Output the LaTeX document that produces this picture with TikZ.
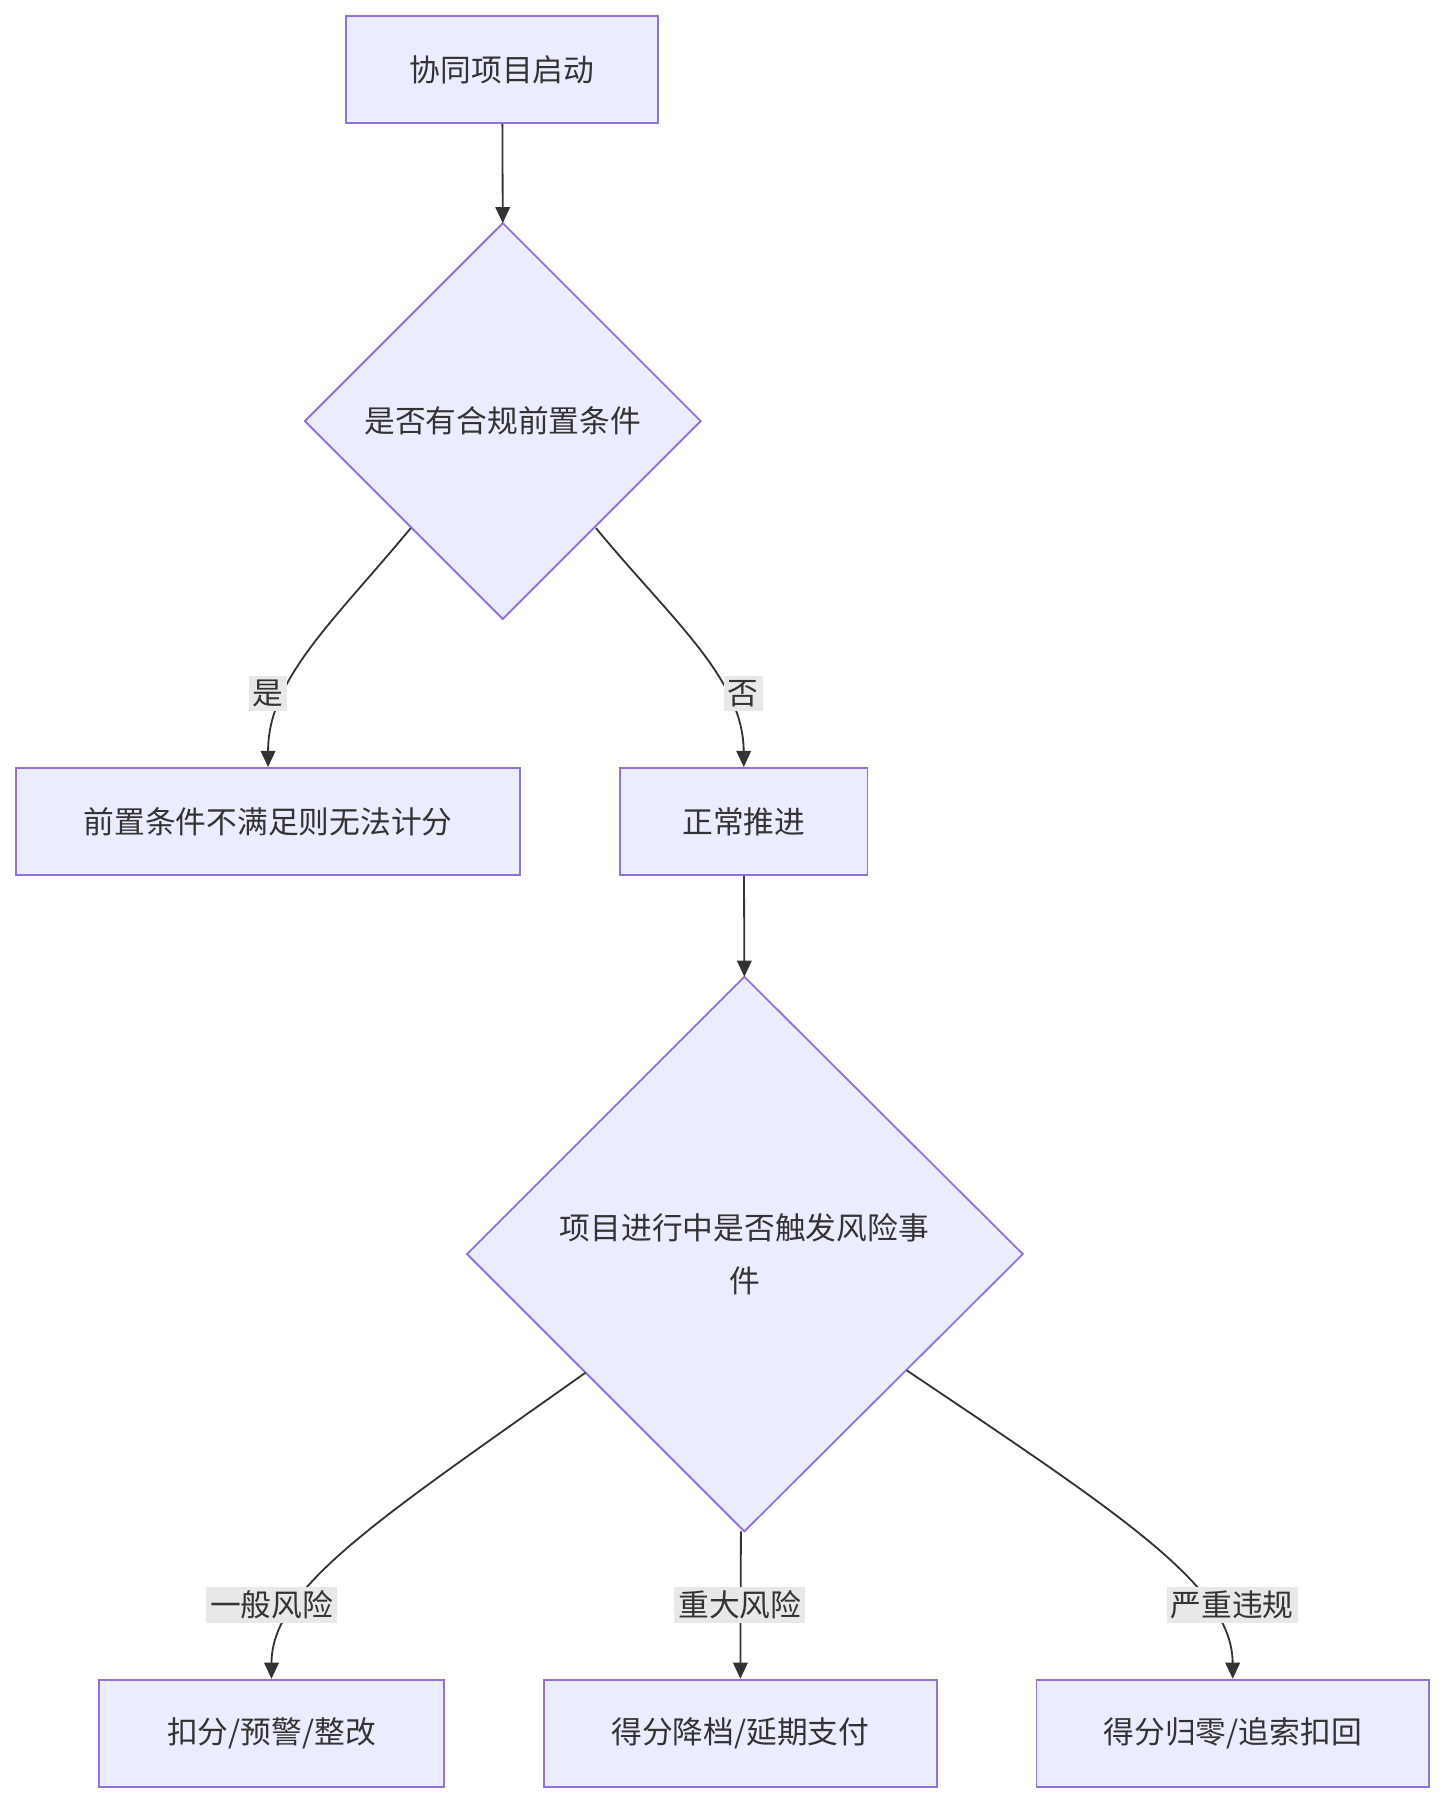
\documentclass[tikz,border=0pt]{standalone}
\usepackage{fontspec}
\setmainfont{Noto Sans CJK SC}
\usetikzlibrary{arrows.meta}
\definecolor{nfill}{HTML}{ECECFF}
\definecolor{nline}{HTML}{9370DB}
\definecolor{eline}{HTML}{333333}
\definecolor{lbg}{HTML}{E8E8E8}
\begin{document}
\begin{tikzpicture}[x=0.01cm,y=-0.01cm,
  font=\fontsize{7.6}{10}\selectfont, text=eline,
  box/.style={draw=nline,fill=nfill,line width=0.45pt,minimum height=0.93cm,inner sep=0pt},
  dia/.style={draw=nline,fill=nfill,line width=0.45pt},
  lbl/.style={fill=lbg,inner sep=1pt},
  conn/.style={draw=eline,line width=0.45pt,-{Triangle[length=4pt,width=3.6pt]}}]
\useasboundingbox (0,0) rectangle (1257,1568);
\node[box,minimum width=2.71cm] (start) at (436.5,60.5) {协同项目启动};
\draw[dia] (437,194) -- (609,366) -- (437,538) -- (265,366) -- cycle;
\node (d1) at (437,366) {是否有合规前置条件};
\coordinate (d1t) at (437,194);
\coordinate (d1l) at (357,459);
\coordinate (d1r) at (518,459);
\node[box,minimum width=4.38cm] (b1) at (233,714) {前置条件不满足则无法计分};
\node[box,minimum width=2.15cm] (b2) at (646.5,714) {正常推进};
\draw[dia] (647,849) -- (889,1090) -- (647,1331) -- (406,1090) -- cycle;
\node[align=center] (d2) at (647,1090) {项目进行中是否触发风险事\\[3pt]件};
\coordinate (d2t) at (647,849);
\coordinate (d2l) at (509,1193);
\coordinate (d2b) at (644,1331);
\coordinate (d2r) at (788,1191);
\node[box,minimum width=3.0cm] (c1) at (236,1506.5) {扣分/预警/整改};
\node[box,minimum width=3.41cm] (c2) at (643.5,1506.5) {得分降档/延期支付};
\node[box,minimum width=3.41cm] (c3) at (1071.5,1506.5) {得分归零/追索扣回};
\draw[conn] (start) -- (d1t);
\draw[conn] (d1l) .. controls (290,540) and (233,590) .. (b1.north);
\draw[conn] (d1r) .. controls (585,540) and (646,590) .. (b2.north);
\draw[conn] (b2) -- (d2t);
\draw[conn] (d2l) .. controls (330,1320) and (236,1380) .. (c1.north);
\draw[conn] (d2b) -- (c2.north);
\draw[conn] (d2r) .. controls (980,1320) and (1071,1380) .. (c3.north);
\node[lbl] (l1) at (233,603) {是};
\node[lbl] (l2) at (646,603) {否};
\node[lbl] (l3) at (236,1395) {一般风险};
\node[lbl] (l4) at (643,1395) {重大风险};
\node[lbl] (l5) at (1071,1395) {严重违规};
\end{tikzpicture}
\end{document}
